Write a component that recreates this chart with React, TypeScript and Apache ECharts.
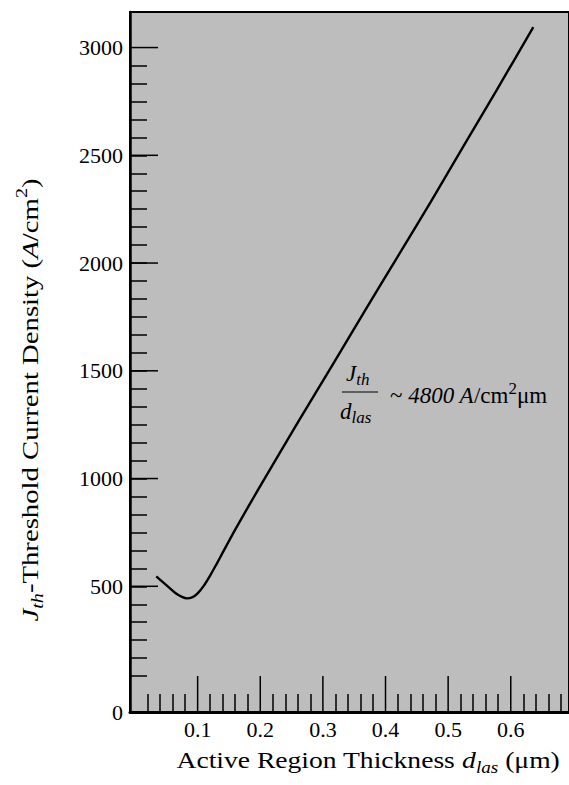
import React, { useEffect, useRef } from "react";
import * as echarts from "echarts";

// ---- data ----
const thickness = [
  0.034, 0.045, 0.055, 0.065, 0.075, 0.083, 0.092, 0.1, 0.11, 0.12, 0.13, 0.14,
  0.15, 0.16, 0.18, 0.21, 0.261, 0.314, 0.367, 0.419, 0.472, 0.525, 0.578, 0.636,
];
const currentDensity = [
  546, 518, 493, 468, 451, 444, 450, 467, 503, 550, 602, 656,
  710, 763, 865, 1015, 1265, 1520, 1778, 2028, 2283, 2545, 2805, 3095,
];

const xMajorTicks = [0.1, 0.2, 0.3, 0.4, 0.5, 0.6];
const xMinorTicks = [
  0.02, 0.04, 0.06, 0.08, 0.12, 0.14, 0.16, 0.18, 0.22, 0.24, 0.26, 0.28,
  0.32, 0.34, 0.36, 0.38, 0.42, 0.44, 0.46, 0.48, 0.52, 0.54, 0.56, 0.58,
  0.62, 0.64, 0.66, 0.68,
];
const xTickLabels = ["0.1", "0.2", "0.3", "0.4", "0.5", "0.6"];

const yMajorTicks = [500, 1000, 1500, 2000, 2500, 3000];
const yTickLabels = ["0", "500", "1000", "1500", "2000", "2500", "3000"];
const yMinorStep = 500 / 6;

const X_MIN = -0.008;
const X_MAX = 0.693;
const Y_MIN = -yMinorStep;
const Y_MAX = 3165;

const FONT = "Liberation Serif";

export default function App() {
  const ref = useRef<HTMLDivElement>(null);

  useEffect(() => {
    if (!ref.current) return;
    const chart = echarts.init(ref.current, undefined, { renderer: "svg" });

    const yMinor: number[] = [];
    for (let k = 1; k * yMinorStep < 2990; k++) yMinor.push(k * yMinorStep);
    const yLabelValues = [Y_MIN, ...yMajorTicks];

    const data = thickness.map((x, i) => [x, currentDensity[i]]);

    const base = { fontFamily: FONT, color: "#000" };

    const titleRich = {
      n: { fontFamily: FONT, fontSize: 23, lineHeight: 32, verticalAlign: "middle", fill: "#000" },
      i: { fontFamily: FONT, fontSize: 23, fontStyle: "italic", lineHeight: 32, verticalAlign: "middle", fill: "#000" },
      sub: { fontFamily: FONT, fontSize: 16, fontStyle: "italic", lineHeight: 13, verticalAlign: "bottom", fill: "#000" },
      sup: { fontFamily: FONT, fontSize: 16, lineHeight: 15, verticalAlign: "top", fill: "#000" },
    };
    const noteRich = {
      n: { fontFamily: FONT, fontSize: 23, lineHeight: 30, verticalAlign: "middle", fill: "#000" },
      i: { fontFamily: FONT, fontSize: 23, fontStyle: "italic", lineHeight: 30, verticalAlign: "middle", fill: "#000" },
      sub: { fontFamily: FONT, fontSize: 17, fontStyle: "italic", lineHeight: 13, verticalAlign: "bottom", fill: "#000" },
      sup: { fontFamily: FONT, fontSize: 17, lineHeight: 15, verticalAlign: "top", fill: "#000" },
    };

    chart.setOption({
      animation: false,
      backgroundColor: "#fff",
      grid: {
        left: 130,
        right: -4,
        top: 12,
        bottom: 73,
        show: true,
        backgroundColor: "#bdbdbd",
        borderColor: "#000",
        borderWidth: 2,
      },
      xAxis: {
        type: "value",
        min: X_MIN,
        max: X_MAX,
        position: "bottom",
        axisLine: { show: true, onZero: false, lineStyle: { color: "#000", width: 3 } },
        axisTick: {
          show: true,
          inside: true,
          length: 18,
          customValues: xMinorTicks,
          lineStyle: { color: "#000", width: 1.5 },
        },
        axisLabel: {
          show: true,
          customValues: xMajorTicks,
          formatter: (v: number) => {
            const i = xMajorTicks.findIndex((t) => Math.abs(t - v) < 1e-6);
            return i >= 0 ? xTickLabels[i] : "";
          },
          margin: 6,
          fontSize: 22,
          ...base,
        },
        splitLine: { show: false },
      },
      yAxis: {
        type: "value",
        min: Y_MIN,
        max: Y_MAX,
        position: "left",
        axisLine: { show: true, onZero: false, lineStyle: { color: "#000", width: 2.5 } },
        axisTick: {
          show: true,
          inside: true,
          length: 17,
          customValues: yMinor,
          lineStyle: { color: "#000", width: 1.5 },
        },
        axisLabel: {
          show: true,
          customValues: yLabelValues,
          showMinLabel: true,
          formatter: (v: number) => {
            const i = yLabelValues.findIndex((t) => Math.abs(t - v) < 1e-6);
            return i >= 0 ? yTickLabels[i] : "";
          },
          margin: 7,
          fontSize: 22,
          ...base,
        },
        splitLine: { show: false },
      },
      series: [
        {
          type: "line",
          data,
          smooth: 0.3,
          showSymbol: false,
          lineStyle: { color: "#000", width: 2.4 },
          clip: true,
          z: 5,
        },
        // long (major) ticks on the x axis
        {
          type: "custom",
          data: xMajorTicks.map((v) => [v]),
          encode: { x: 0 },
          clip: false,
          silent: true,
          z: 4,
          renderItem: (_p: any, api: any) => {
            const p = api.coord([api.value(0), Y_MIN]);
            return {
              type: "line",
              shape: { x1: p[0], y1: p[1], x2: p[0], y2: p[1] - 36 },
              style: { stroke: "#000", lineWidth: 1.5 },
            };
          },
        },
        // long (major) ticks on the y axis
        {
          type: "custom",
          data: yMajorTicks.map((v) => [X_MIN, v]),
          encode: { x: 0, y: 1 },
          clip: false,
          silent: true,
          z: 4,
          renderItem: (_p: any, api: any) => {
            const p = api.coord([X_MIN, api.value(1)]);
            return {
              type: "line",
              shape: { x1: p[0], y1: p[1], x2: p[0] + 28, y2: p[1] },
              style: { stroke: "#000", lineWidth: 1.5 },
            };
          },
        },
      ],
      graphic: [
        // y-axis title
        {
          type: "text",
          x: 30,
          y: 400,
          rotation: Math.PI / 2,
          scaleX: 1.25,
          style: {
            text: "{i|J}{sub|th}{n|-Threshold Current Density (}{i|A}{n|/cm}{sup|2}{n|)}",
            align: "center",
            verticalAlign: "middle",
            rich: titleRich,
          },
        },
        // x-axis title
        {
          type: "text",
          x: 368,
          y: 760,
          scaleX: 1.2,
          style: {
            text: "{n|Active Region Thickness }{i|d}{sub|las}{n| (μm)}",
            align: "center",
            verticalAlign: "middle",
            rich: titleRich,
          },
        },
        // annotation: J_th / d_las ~ 4800 A/cm^2 um
        {
          type: "text",
          x: 346,
          y: 373,
          style: {
            text: "{i|J}{sub|th}",
            align: "left",
            verticalAlign: "middle",
            rich: noteRich,
          },
        },
        {
          type: "line",
          shape: { x1: 342, y1: 392, x2: 378, y2: 392 },
          style: { stroke: "#000", lineWidth: 1 },
        },
        {
          type: "text",
          x: 340,
          y: 411,
          style: {
            text: "{i|d}{sub|las}",
            align: "left",
            verticalAlign: "middle",
            rich: noteRich,
          },
        },
        {
          type: "text",
          x: 390,
          y: 395,
          style: {
            text: "{n|~ }{i|4800 A}{n|/cm}{sup|2}{n|μm}",
            align: "left",
            verticalAlign: "middle",
            rich: noteRich,
          },
        },
      ],
    });

    return () => chart.dispose();
  }, []);

  return (
    <div
      ref={ref}
      style={{ position: "absolute", left: 0, top: 0, width: 569, height: 785 }}
    />
  );
}
